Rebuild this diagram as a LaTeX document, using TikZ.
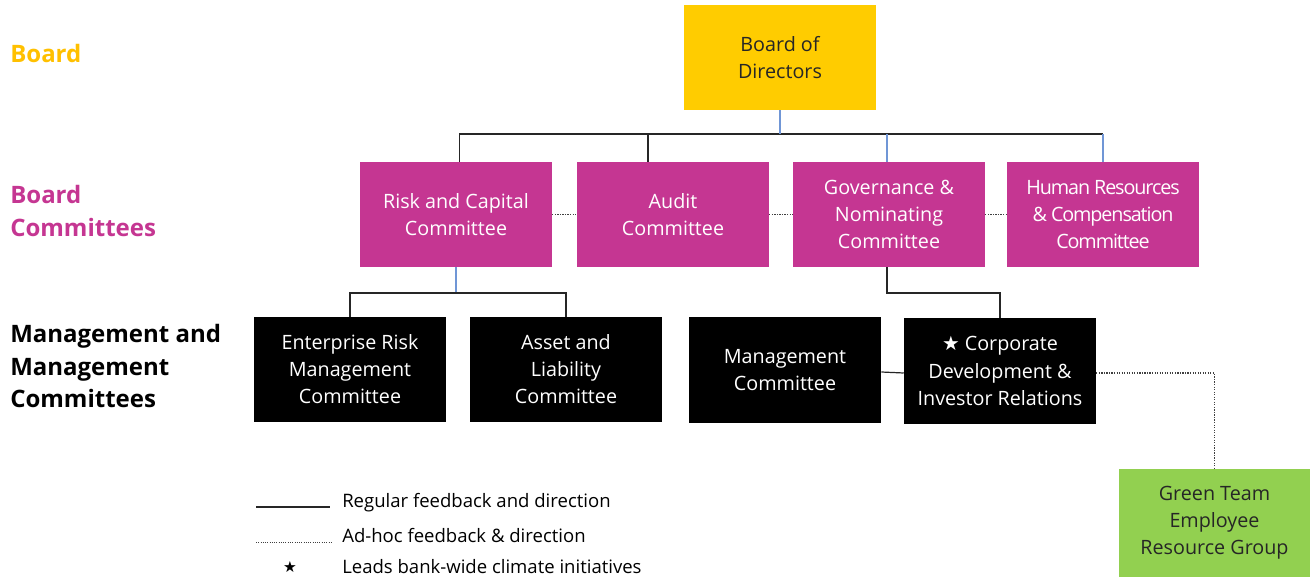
\documentclass[tikz,border=0pt]{standalone}
\usepackage{fontspec}
\setmainfont{Open Sans}
\newfontfamily\symbfont{DejaVu Sans}
\usepackage{tikz}
\usepackage{xcolor}

\definecolor{jaune}{HTML}{FFCC00}
\definecolor{orjaune}{HTML}{FFC000}
\definecolor{rose}{HTML}{C53692}
\definecolor{vertclair}{HTML}{92D050}
\definecolor{bleu}{HTML}{7096D6}

\newcommand{\etoile}{{\symbfont\char"2605}}

\tikzset{
  boite/.style={minimum width=144pt, minimum height=79pt, inner sep=0pt, align=center,
    font=\fontsize{14.8}{20.3}\selectfont},
  conseil/.style={boite, fill=jaune, text=black!85},
  comite/.style={boite, fill=rose, text=white},
  gestion/.style={boite, fill=black, text=white},
  groupe/.style={boite, fill=vertclair, text=black!85},
  lien/.style={black!85, line width=0.9pt},
  lienbleu/.style={bleu, line width=0.9pt},
  pointille/.style={black!75, densely dotted, line width=0.9pt},
  niveau/.style={anchor=west, align=left, inner sep=0pt, font=\bfseries\fontsize{18}{24.4}\selectfont},
  legende/.style={anchor=west, font=\fontsize{13.9}{15}\selectfont, inner sep=0pt}
}

\begin{document}
\begin{tikzpicture}[x=0.75pt, y=-0.75pt]
  \useasboundingbox (0,0) rectangle (1310,577);

  % Niveaux
  \node[niveau, text=orjaune] (nb) at (10,54) {Board};
  \node[niveau, text=rose] (nc) at (10,211) {Board\\Committees};
  \node[niveau] (nm) at (10,366) {Management and\\Management\\Committees};

  % Conseil et comites
  \node[conseil] (ca) at (780,57.5) {Board of\\Directors};
  \node[comite] (rc) at (456,214.5) {Risk and Capital\\Committee};
  \node[comite] (au) at (673,214.5) {Audit\\Committee};
  \node[comite] (gn) at (889,214.5) {Governance \&\\Nominating\\Committee};
  \node[comite, font=\fontsize{14.8}{20.3}\selectfont\addfontfeature{LetterSpace=-5.5}] (rh) at (1103,214.5) {Human Resources\\\& Compensation\\Committee};

  \node[gestion] (er) at (350,369.5) {Enterprise Risk\\Management\\Committee};
  \node[gestion] (al) at (566,369.5) {Asset and\\Liability\\Committee};
  \node[gestion] (mc) at (785,370) {Management\\Committee};
  \node[gestion] (cd) at (1000,371) {\etoile{} Corporate\\Development \&\\Investor Relations};
  \node[groupe, minimum height=81pt] (gt) at (1214.5,523) {Green Team\\Employee\\Resource Group};

  \coordinate (bus1) at (0,134);
  \coordinate (bus2) at (0,293);

  % Liens reguliers
  \draw[lien] (rc.north -| 459.6,0) |- (rh.north |- bus1);
  \draw[lien] ([xshift=-18.75pt]au.north) -- ([xshift=-18.75pt]au.north |- bus1);
  \draw[lienbleu] (ca.south) -- (ca.south |- bus1);
  \draw[lienbleu] ([xshift=-1.5pt]gn.north) -- ([xshift=-1.5pt]gn.north |- bus1);
  \draw[lienbleu] (rh.north) -- (rh.north |- bus1);

  \draw[lienbleu] (rc.south) -- (rc.south |- bus2);
  \draw[lien] (er.north) |- (al.north |- bus2) -- (al.north);
  \draw[lien] ([xshift=-1.5pt]gn.south) |- (cd.north |- bus2) -- (cd.north);
  \draw[lien] ([yshift=-1.5pt]mc.east) -- ([yshift=-1.5pt]cd.west);

  % Liens ponctuels
  \draw[pointille] (rc.east) -- (au.west);
  \draw[pointille] (au.east) -- (gn.west);
  \draw[pointille] (gn.east) -- (rh.west);
  \draw[pointille] ([yshift=-1.5pt]cd.east) -| (gt.north);

  % Legende
  \coordinate (l1a) at (256,507);
  \coordinate (l1b) at (330,507);
  \coordinate (l2a) at (256,542);
  \coordinate (l2b) at (332,542);
  \draw[lien] (l1a) -- (l1b);
  \draw[pointille, line width=0.7pt] (l2a) -- (l2b);
  \node[legende] (t1) at (342,503) {Regular feedback and direction};
  \node[legende] (t2) at (342,535) {Ad-hoc feedback \& direction};
  \node[font=\fontsize{11.5}{13}\selectfont, inner sep=0pt] (st) at (290,567) {\etoile};
  \node[legende] (t3) at (342,567) {Leads bank-wide climate initiatives};
\end{tikzpicture}
\end{document}
